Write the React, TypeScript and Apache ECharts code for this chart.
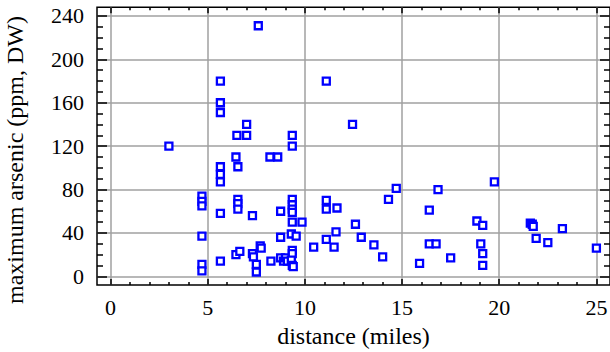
import React, { useEffect, useRef } from "react";
import * as echarts from "echarts";

const distance = [
  3.0,
  4.7, 4.7, 4.7, 4.7, 4.7, 4.7,
  5.65, 5.65, 5.65, 5.65, 5.65, 5.65, 5.65, 5.65,
  6.45, 6.55, 6.5, 7.0, 7.0,
  6.55, 6.55, 6.55,
  6.45, 6.65,
  7.3, 7.3, 7.35, 7.5, 7.5, 7.7, 7.75,
  7.6,
  8.2, 8.6,
  8.25, 8.75, 8.75, 8.75, 8.9, 9.0, 9.1,
  9.35, 9.35, 9.35, 9.35, 9.35, 9.35, 9.35, 9.85,
  9.3, 9.55, 9.35, 9.35, 9.3, 9.35, 9.4,
  10.45, 11.1, 11.1, 11.1, 11.65, 11.1, 11.6, 11.5,
  12.45, 12.6, 12.9, 13.55, 14.0, 14.3, 14.7,
  15.9, 16.4, 16.4, 16.75, 16.85, 17.5,
  18.85, 19.15, 19.05, 19.15, 19.15, 19.75,
  21.6, 21.7, 21.75, 21.9, 22.5, 23.25, 25.0,
];

const arsenic = [
  120,
  74, 69, 65, 37, 11, 5,
  180, 160, 151, 101, 94, 87, 58, 14,
  110, 101, 130, 140, 130,
  71, 67, 62,
  20, 23,
  56, 21, 18, 11, 4, 28, 26,
  231,
  110, 110,
  14, 60, 36, 17, 14, 17, 14,
  130, 120, 71, 66, 62, 59, 50, 50,
  39, 37, 24, 21, 15, 10, 9,
  27, 180, 70, 62, 63, 34, 41, 27,
  140, 48, 36, 29, 18, 71, 81,
  12, 61, 30, 30, 80, 17,
  51, 47, 30, 21, 10, 87,
  49, 48, 46, 35, 31, 44, 26,
];

const xTickMin = 0;
const xTickMax = 25;
const xTickStep = 5;
const yTickMin = 0;
const yTickMax = 240;
const yTickStep = 40;

const xTitle = "distance (miles)";
const yTitle = "maximum arsenic (ppm, DW)";

export default function App() {
  const ref = useRef<HTMLDivElement>(null);

  useEffect(() => {
    if (!ref.current) return;
    const chart = echarts.init(ref.current, undefined, { renderer: "svg" });

    const L = 97, T = 7.3, W = 513, H = 277.7;
    const xmin = -0.7, xmax = 25.7, ymin = -8, ymax = 248;
    const kx = W / (xmax - xmin);
    const ky = H / (ymax - ymin);
    const font = '"Liberation Serif", "Times New Roman", serif';
    const grid = "#a0a0a0";

    const tickCommon = { inside: true, lineStyle: { color: "#000", width: 1.5 } };

    chart.setOption({
      animation: false,
      textStyle: { fontFamily: font },
      grid: [
        {
          left: L, top: T, width: W, height: H,
          show: true, borderColor: "#000", borderWidth: 1.5,
          backgroundColor: "transparent", containLabel: false, outerBoundsMode: "none",
        },
        {
          left: L + (xTickMin - xmin) * kx, top: T,
          width: (xTickMax - xTickMin) * kx, height: H,
          containLabel: false, outerBoundsMode: "none",
        },
        {
          left: L, top: T + (ymax - yTickMax) * ky,
          width: W, height: (yTickMax - yTickMin) * ky,
          containLabel: false, outerBoundsMode: "none",
        },
      ],
      xAxis: [
        { gridIndex: 0, type: "value", min: xmin, max: xmax, show: false },
        {
          gridIndex: 1, type: "value", position: "bottom",
          min: xTickMin, max: xTickMax, interval: xTickStep,
          axisLine: { show: false },
          axisTick: { ...tickCommon, length: 6 },
          minorTick: { show: true, splitNumber: 5, length: 3, lineStyle: { color: "#000", width: 1.5 } },
          splitLine: { show: true, lineStyle: { color: grid, width: 1.5 } },
          minorSplitLine: { show: false },
          axisLabel: { color: "#000", fontSize: 22, fontFamily: font, margin: 11 },
          name: xTitle, nameLocation: "middle", nameGap: 39,
          nameTextStyle: { color: "#000", fontSize: 24, fontFamily: font },
        },
        {
          gridIndex: 1, type: "value", position: "top",
          min: xTickMin, max: xTickMax, interval: xTickStep,
          axisLine: { show: false },
          axisTick: { ...tickCommon, length: 6 },
          minorTick: { show: true, splitNumber: 5, length: 3, lineStyle: { color: "#000", width: 1.5 } },
          splitLine: { show: false },
          axisLabel: { show: false },
        },
        { gridIndex: 2, type: "value", min: 0, max: 1, show: false },
      ],
      yAxis: [
        { gridIndex: 0, type: "value", min: ymin, max: ymax, show: false },
        { gridIndex: 1, type: "value", min: 0, max: 1, show: false },
        {
          gridIndex: 2, type: "value", position: "left",
          min: yTickMin, max: yTickMax, interval: yTickStep,
          axisLine: { show: false },
          axisTick: { ...tickCommon, length: 10 },
          minorTick: { show: true, splitNumber: 4, length: 6, lineStyle: { color: "#000", width: 1.5 } },
          splitLine: { show: true, lineStyle: { color: grid, width: 1.5 } },
          minorSplitLine: { show: false },
          axisLabel: { color: "#000", fontSize: 22, fontFamily: font, margin: 13 },
        },
        {
          gridIndex: 2, type: "value", position: "right",
          min: yTickMin, max: yTickMax, interval: yTickStep,
          axisLine: { show: false },
          axisTick: { ...tickCommon, length: 10 },
          minorTick: { show: true, splitNumber: 4, length: 6, lineStyle: { color: "#000", width: 1.5 } },
          splitLine: { show: false },
          axisLabel: { show: false },
        },
      ],
      graphic: [
        {
          type: "text",
          x: 15,
          y: 160,
          rotation: Math.PI / 2,
          style: {
            text: yTitle,
            fill: "#000",
            font: `24px ${font}`,
            textAlign: "center",
            textVerticalAlign: "middle",
          },
        },
      ],
      series: [
        {
          type: "scatter",
          xAxisIndex: 0,
          yAxisIndex: 0,
          symbol: "rect",
          symbolSize: 7,
          itemStyle: { color: "#ffffff", borderColor: "#0000ff", borderWidth: 2.3, opacity: 1 },
          data: distance.map((d, i) => [d, arsenic[i]]),
          z: 5,
        },
      ],
    });

    return () => chart.dispose();
  }, []);

  return (
    <div
      ref={ref}
      style={{ position: "absolute", left: 0, top: 0, width: 610, height: 352 }}
    />
  );
}
